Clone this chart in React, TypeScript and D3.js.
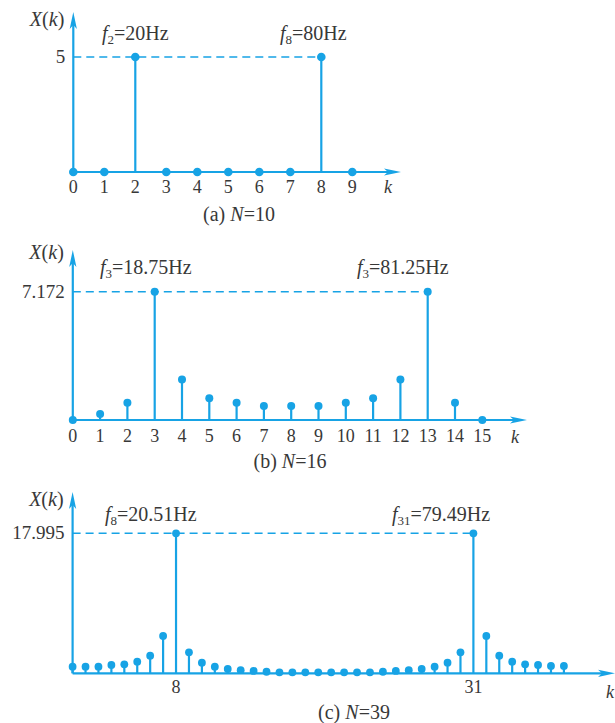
import React from 'react';
import * as d3 from 'd3';

const STEM = '#17a3e5';
const INK = '#383838';
const FONT = '"Liberation Serif", "Times New Roman", serif';

// (a) N = 10
const valuesA = [0, 0, 5, 0, 0, 0, 0, 0, 5, 0];
const ticksA = ['0', '1', '2', '3', '4', '5', '6', '7', '8', '9'];
const peaksA = [2, 8];
const peakLabelA = '5';
const noteA = [
  { sub: '2', text: '=20Hz' },
  { sub: '8', text: '=80Hz' },
];

// (b) N = 16
const valuesB = [0, 0.34, 0.97, 7.172, 2.27, 1.21, 0.97, 0.78, 0.78, 0.78, 0.97, 1.21, 2.27, 7.172, 0.97, 0];
const ticksB = ['0', '1', '2', '3', '4', '5', '6', '7', '8', '9', '10', '11', '12', '13', '14', '15'];
const peaksB = [3, 13];
const peakLabelB = '7.172';
const noteB = [
  { sub: '3', text: '=18.75Hz' },
  { sub: '3', text: '=81.25Hz' },
];

// (c) N = 39
const valuesC = [
  0.85, 0.85, 0.85, 1.07, 1.16, 1.49, 2.27, 4.8, 17.995, 2.7, 1.36, 0.85, 0.55, 0.4, 0.3, 0.2,
  0.12, 0.12, 0.12, 0.12, 0.12, 0.12, 0.12, 0.12,
  0.2, 0.3, 0.4, 0.55, 0.85, 1.36, 2.7, 17.995, 4.8, 2.27, 1.49, 1.16, 1.07, 0.95, 0.95,
];
const ticksC = ['8', '31'];
const tickIndexC = [8, 31];
const peaksC = [8, 31];
const peakLabelC = '17.995';
const noteC = [
  { sub: '8', text: '=20.51Hz' },
  { sub: '31', text: '=79.49Hz' },
];

type PanelProps = {
  values: number[];
  peaks: number[];
  peakLabel: string;
  notes: { sub: string; text: string }[];
  tickLabels: string[];
  tickIndex: number[];
  caption: string;
  captionN: string;
  x0: number;
  xLast: number;
  axisEnd: number;
  baseY: number;
  topY: number;
  axisTop: number;
  r: number;
  titleY: number;
  noteX: number[];
  noteY: number;
  tickY: number;
  kX: number;
  kY: number;
  captionX: number;
  captionY: number;
};

function Panel(p: PanelProps) {
  const n = p.values.length;
  const x = d3.scaleLinear().domain([0, n - 1]).range([p.x0, p.xLast]);
  const peakVal = p.values[p.peaks[0]];
  const y = d3.scaleLinear().domain([0, peakVal]).range([p.baseY, p.topY]);
  const axisX = x(0);

  const yArrow = `M${axisX},${p.axisTop} L${axisX - 3.6},${p.axisTop + 17} L${axisX},${p.axisTop + 13} L${axisX + 3.6},${p.axisTop + 17} Z`;
  const xArrow = `M${p.axisEnd},${p.baseY} L${p.axisEnd - 17},${p.baseY - 3.6} L${p.axisEnd - 13},${p.baseY} L${p.axisEnd - 17},${p.baseY + 3.6} Z`;

  return (
    <g>
      {/* dashed reference at the peak value */}
      <line
        x1={axisX}
        x2={x(p.peaks[1])}
        y1={y(peakVal)}
        y2={y(peakVal)}
        stroke={STEM}
        strokeWidth={1.4}
        strokeDasharray="8 5"
      />
      {/* axes */}
      <line x1={axisX} x2={axisX} y1={p.baseY} y2={p.axisTop + 12} stroke={STEM} strokeWidth={2.2} />
      <path d={yArrow} fill={STEM} />
      <line x1={axisX} x2={p.axisEnd - 12} y1={p.baseY} y2={p.baseY} stroke={STEM} strokeWidth={2.2} />
      <path d={xArrow} fill={STEM} />
      {/* stems */}
      {p.values.map((v, i) => (
        <g key={i}>
          {v > 0 && (
            <line x1={x(i)} x2={x(i)} y1={p.baseY} y2={y(v)} stroke={STEM} strokeWidth={2.2} />
          )}
          <circle cx={x(i)} cy={y(v)} r={p.r} fill={STEM} />
        </g>
      ))}
      {/* axis titles */}
      <text x={axisX - 9} y={p.titleY} textAnchor="end" fontSize={20} fill={INK} fontFamily={FONT}>
        <tspan fontStyle="italic">X</tspan>(<tspan fontStyle="italic">k</tspan>)
      </text>
      <text x={axisX - 8} y={y(peakVal) + 6} textAnchor="end" fontSize={19} fill={INK} fontFamily={FONT}>
        {p.peakLabel}
      </text>
      {/* peak annotations */}
      {p.notes.map((nt, i) => (
        <text key={i} x={p.noteX[i]} y={p.noteY} fontSize={20} fill={INK} fontFamily={FONT}>
          <tspan fontStyle="italic">f</tspan>
          <tspan fontSize={13} dy={4}>{nt.sub}</tspan>
          <tspan dy={-4}>{nt.text}</tspan>
        </text>
      ))}
      {/* tick labels */}
      {p.tickLabels.map((t, i) => (
        <text
          key={t}
          x={x(p.tickIndex[i])}
          y={p.tickY}
          textAnchor="middle"
          fontSize={18}
          fill={INK}
          fontFamily={FONT}
        >
          {t}
        </text>
      ))}
      <text x={p.kX} y={p.kY} textAnchor="middle" fontSize={18} fontStyle="italic" fill={INK} fontFamily={FONT}>
        k
      </text>
      <text x={p.captionX} y={p.captionY} textAnchor="middle" fontSize={20} fill={INK} fontFamily={FONT}>
        {p.caption} <tspan fontStyle="italic">N</tspan>={p.captionN}
      </text>
    </g>
  );
}

export default function App() {
  return (
    <svg
      width={615}
      height={723}
      viewBox="0 0 615 723"
      style={{ position: 'absolute', left: 0, top: 0, background: '#fff' }}
    >
      <rect width={615} height={723} fill="#fff" />
      <Panel
        values={valuesA}
        peaks={peaksA}
        peakLabel={peakLabelA}
        notes={noteA}
        tickLabels={ticksA}
        tickIndex={d3.range(valuesA.length)}
        caption="(a)"
        captionN="10"
        x0={73.3}
        xLast={352.3}
        axisEnd={401}
        baseY={172}
        topY={57}
        axisTop={12}
        r={4.3}
        titleY={26}
        noteX={[102, 280]}
        noteY={40}
        tickY={193}
        kX={388}
        kY={193}
        captionX={239}
        captionY={221}
      />
      <Panel
        values={valuesB}
        peaks={peaksB}
        peakLabel={peakLabelB}
        notes={noteB}
        tickLabels={ticksB}
        tickIndex={d3.range(valuesB.length)}
        caption="(b)"
        captionN="16"
        x0={72.8}
        xLast={482.3}
        axisEnd={527}
        baseY={420}
        topY={291.7}
        axisTop={250}
        r={4}
        titleY={259}
        noteX={[100, 357]}
        noteY={274}
        tickY={442}
        kX={515}
        kY={443}
        captionX={290}
        captionY={468}
      />
      <Panel
        values={valuesC}
        peaks={peaksC}
        peakLabel={peakLabelC}
        notes={noteC}
        tickLabels={ticksC}
        tickIndex={tickIndexC}
        caption="(c)"
        captionN="39"
        x0={72.6}
        xLast={563.9}
        axisEnd={615}
        baseY={673.3}
        topY={533.3}
        axisTop={492}
        r={3.9}
        titleY={506}
        noteX={[105, 392]}
        noteY={521}
        tickY={693}
        kX={610}
        kY={698}
        captionX={354}
        captionY={719}
      />
    </svg>
  );
}
